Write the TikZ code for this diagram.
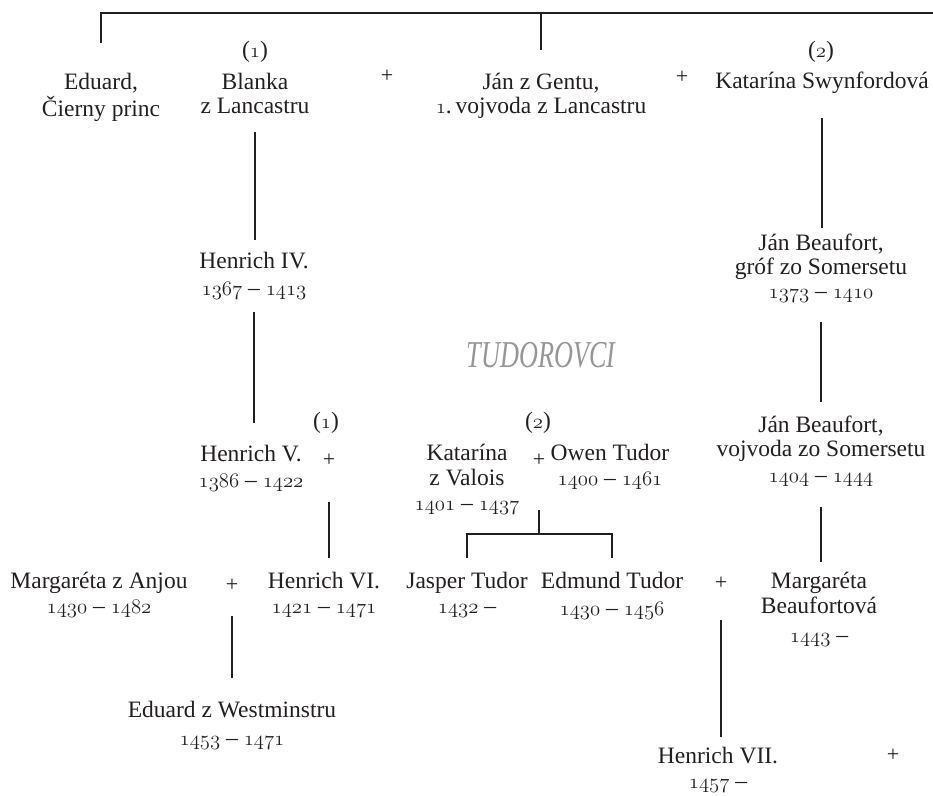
\documentclass[tikz,border=0pt]{standalone}
\usepackage{graphicx}
\usepackage{fontspec}
\setmainfont{Liberation Serif}
\definecolor{ink}{RGB}{35,31,32}
\definecolor{tudgray}{RGB}{150,150,150}
\newcommand\yr[1]{{\fontsize{21}{24}\usefont{OML}{cmm}{m}{it}#1}}
\newcommand\pp[1]{\begin{tabular}[t]{@{}c@{}}#1\end{tabular}}
\newcommand\pfont{\fontsize{23.5}{24}\selectfont}
\begin{document}
\begin{tikzpicture}[x=1pt,y=-1pt,
  pn/.style={anchor=base, inner sep=0pt, text=ink, font=\pfont},
  par/.style={anchor=center, inner sep=0pt, text=ink, font=\pfont},
  plus/.style={anchor=center, inner sep=0pt, text=ink, font=\fontsize{22}{24}\selectfont},
  tudlabel/.style={anchor=center, inner sep=0pt, text=tudgray},
  conn/.style={draw=ink, line width=2pt}]
\useasboundingbox (0,0) rectangle (933,795);

% generation 1
\node[pn] (eduard) at (101,89) {\pp{Eduard,\\Čierny princ}};
\node[par] (p1) at (255,52) {(\yr{1})};
\node[pn] (blanka) at (255,89) {\pp{Blanka\\z Lancastru}};
\node[plus] (pl1) at (387,76) {+};
\node[pn] (jan) at (541,89) {\pp{Ján z Gentu,\\\yr{1}.\,vojvoda z Lancastru}};
\node[plus] (pl2) at (682,77) {+};
\node[par] (p2) at (821,52) {(\yr{2})};
\node[pn] (katarina) at (822,88) {\pp{Katarína Swynfordová}};

% generation 2
\node[pn] (henrich4) at (254,268) {\pp{Henrich IV.\\[3pt]\yr{1367} – \yr{1413}}};
\node[pn] (beaufort1) at (821,250) {\pp{Ján Beaufort,\\gróf zo Somersetu\\\yr{1373} – \yr{1410}}};

\node[tudlabel] (tudor) at (541,355) {\scalebox{0.69}[1]{\fontsize{38}{40}\selectfont\itshape TUDOROVCI}};

% generation 3
\node[pn] (beaufort2) at (821,432) {\pp{Ján Beaufort,\\vojvoda zo Somersetu\\[2pt]\yr{1404} – \yr{1444}}};
\node[par] (p3) at (326,423) {(\yr{1})};
\node[pn] (henrich5) at (251,461) {\pp{Henrich V.\\[2pt]\yr{1386} – \yr{1422}}};
\node[plus] (pl3) at (329,460) {+};
\node[par] (p4) at (538,423) {(\yr{2})};
\node[pn] (katv) at (467,460) {\pp{Katarína\\[1pt]z Valois\\[1pt]\yr{1401} – \yr{1437}}};
\node[plus] (pl4) at (539,460) {+};
\node[pn] (owen) at (610,460) {\pp{Owen Tudor\\[1pt]\yr{1400} – \yr{1461}}};

% generation 4
\node[pn] (marga) at (99,588) {\pp{Margaréta z Anjou\\[1pt]\yr{1430} – \yr{1482}}};
\node[plus] (pl6) at (232,585) {+};
\node[pn] (henrich6) at (324,588) {\pp{Henrich VI.\\[1pt]\yr{1421} – \yr{1471}}};
\node[pn] (jasper) at (467,588) {\pp{Jasper Tudor\\[1pt]\yr{1432} –}};
\node[pn] (edmund) at (612,588) {\pp{Edmund Tudor\\[3pt]\yr{1430} – \yr{1456}}};
\node[plus] (pl5) at (721,583) {+};
\node[pn] (margb) at (819,588) {\pp{Margaréta\\[1pt]Beaufortová\\[5pt]\yr{1443} –}};

% generation 5
\node[pn] (eduardw) at (232,717) {\pp{Eduard z Westminstru\\[4pt]\yr{1453} – \yr{1471}}};
\node[pn] (henrich7) at (718,763) {\pp{Henrich VII.\\[1pt]\yr{1457} –}};
\node[plus] (pl7) at (893,755) {+};

% connectors
\coordinate (topR) at (933,13);
\draw[conn] (eduard |- 0,43) -- (eduard |- 0,13) -- (topR);
\draw[conn] (jan |- 0,13) -- (jan |- 0,50);
\draw[conn] (blanka |- 0,132) -- (blanka |- 0,240);
\draw[conn] (henrich4 |- 0,312) -- (henrich4 |- 0,423);
\draw[conn] (katarina |- 0,118) -- (katarina |- 0,228);
\draw[conn] (beaufort1 |- 0,322) -- (beaufort1 |- 0,402);
\draw[conn] (beaufort2 |- 0,507) -- (beaufort2 |- 0,562);
\draw[conn] (pl3 |- 0,502) -- (pl3 |- 0,558);
\draw[conn] (pl4 |- 0,510) -- (pl4 |- 0,534);
\draw[conn] (jasper |- 0,558) -- (jasper |- 0,534) -- (edmund |- 0,534) -- (edmund |- 0,558);
\draw[conn] (pl6 |- 0,616) -- (pl6 |- 0,678);
\draw[conn] (pl5 |- 0,620) -- (pl5 |- 0,737);
\end{tikzpicture}
\end{document}
